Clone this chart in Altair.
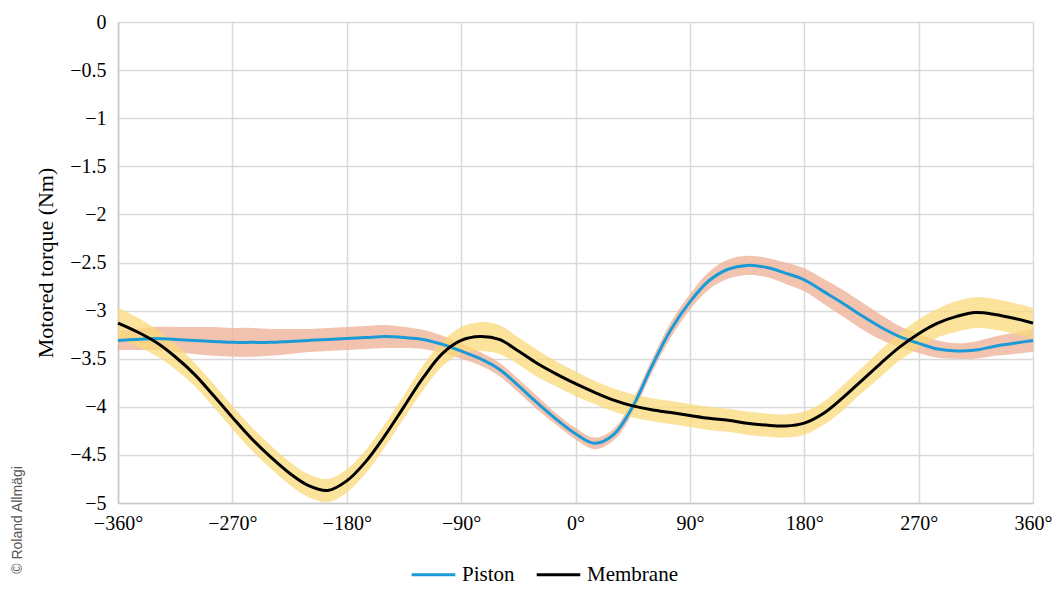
import altair as alt
import pandas as pd

angles = list(range(-360, 361, 15))

piston = [-3.31, -3.30, -3.29, -3.30, -3.31, -3.32, -3.33, -3.33, -3.33, -3.32,
          -3.31, -3.30, -3.29, -3.28, -3.27, -3.28, -3.30, -3.35, -3.42, -3.50,
          -3.61, -3.78, -3.96, -4.13, -4.28, -4.38, -4.29, -4.00, -3.58, -3.20,
          -2.91, -2.69, -2.57, -2.53, -2.55, -2.61, -2.68, -2.80, -2.92, -3.05,
          -3.17, -3.27, -3.34, -3.40, -3.42, -3.41, -3.37, -3.34, -3.31]
piston_err = [0.10, 0.11, 0.12, 0.13, 0.14, 0.15, 0.15, 0.15, 0.14, 0.13,
              0.12, 0.12, 0.12, 0.12, 0.12, 0.11, 0.10, 0.09, 0.08, 0.07,
              0.07, 0.07, 0.07, 0.06, 0.06, 0.06, 0.06, 0.07, 0.07, 0.08,
              0.08, 0.09, 0.10, 0.10, 0.10, 0.11, 0.12, 0.13, 0.14, 0.14,
              0.13, 0.11, 0.10, 0.09, 0.08, 0.09, 0.10, 0.11, 0.12]

membrane = [-3.13, -3.22, -3.33, -3.48, -3.66, -3.88, -4.11, -4.33, -4.52, -4.69,
            -4.82, -4.87, -4.77, -4.57, -4.30, -4.00, -3.70, -3.45, -3.31, -3.27,
            -3.30, -3.42, -3.55, -3.66, -3.76, -3.85, -3.93, -3.99, -4.03, -4.06,
            -4.09, -4.12, -4.14, -4.17, -4.19, -4.20, -4.17, -4.07, -3.91, -3.73,
            -3.55, -3.38, -3.24, -3.13, -3.06, -3.02, -3.04, -3.08, -3.13]
membrane_err = [0.16, 0.15, 0.14, 0.13, 0.12, 0.12, 0.12, 0.12, 0.12, 0.12,
                0.12, 0.12, 0.12, 0.12, 0.12, 0.12, 0.13, 0.13, 0.14, 0.15,
                0.15, 0.14, 0.14, 0.13, 0.13, 0.12, 0.12, 0.12, 0.12, 0.12,
                0.12, 0.12, 0.12, 0.12, 0.12, 0.12, 0.12, 0.12, 0.13, 0.13,
                0.14, 0.14, 0.15, 0.15, 0.16, 0.16, 0.16, 0.16, 0.16]

series_names = ["Piston", "Membrane"]
x_ticks = [-360, -270, -180, -90, 0, 90, 180, 270, 360]
y_ticks = [0, -0.5, -1, -1.5, -2, -2.5, -3, -3.5, -4, -4.5, -5]

rows = []
for name, vals, errs in [("Piston", piston, piston_err), ("Membrane", membrane, membrane_err)]:
    for a, v, e in zip(angles, vals, errs):
        rows.append({"angle": a, "torque": v, "lo": v - e, "hi": v + e, "series": name})
df = pd.DataFrame(rows)

FONT = "Liberation Serif, Times New Roman, DejaVu Serif, serif"
INTERP = "catmull-rom"

x_enc = alt.X("angle:Q", scale=alt.Scale(domain=[-360, 360], nice=False),
              axis=alt.Axis(values=x_ticks, title=None, tickSize=0, labelPadding=10,
                            labelFlush=False, labelOverlap=False, labelBound=False,
                            labelExpr="replace(datum.label, '-', '–') + '°'",
                            labelFontSize=20, labelFont=FONT, labelColor="#000"))
y_scale = alt.Scale(domain=[-5, 0], nice=False)

base = alt.Chart(df)

band_p = base.transform_filter(alt.datum.series == "Piston").mark_area(
    color="#EDB096", opacity=0.75, interpolate=INTERP).encode(
    x=x_enc, y=alt.Y("lo:Q", scale=y_scale), y2="hi:Q")
band_m = base.transform_filter(alt.datum.series == "Membrane").mark_area(
    color="#FAD97A", opacity=0.75, interpolate=INTERP).encode(
    x=x_enc, y=alt.Y("lo:Q", scale=y_scale), y2="hi:Q")

lines = base.mark_line(strokeWidth=3, interpolate=INTERP).encode(
    x=x_enc,
    y=alt.Y("torque:Q", scale=y_scale,
            axis=alt.Axis(values=y_ticks, title="Motored torque (Nm)", tickSize=0,
                          format="~g",
                          labelPadding=12, labelFontSize=20, labelFont=FONT,
                          labelColor="#000", labelFlush=False, labelOverlap=False,
                          labelExpr="replace(datum.label, '-', '–')",
                          titleFont=FONT, titleFontSize=22, titleFontWeight="normal",
                          titleColor="#000", titlePadding=12)),
    color=alt.Color("series:N", scale=alt.Scale(domain=series_names, range=["#1A9BD7", "#000000"]),
                    sort=series_names,
                    legend=alt.Legend(title=None, orient="none", legendX=292, legendY=529,
                                      direction="horizontal", symbolType="stroke",
                                      symbolSize=1900, symbolStrokeWidth=3,
                                      labelFont=FONT, labelFontSize=21, labelColor="#000",
                                      columnPadding=15, labelOffset=5, labelLimit=200)),
)

credit = alt.Chart(pd.DataFrame({"t": ["© Roland Allmägi"]})).mark_text(
    angle=270, font="Liberation Sans", fontSize=14, color="#555", align="center",
    baseline="middle").encode(text="t:N", x=alt.value(-100), y=alt.value(498))

chart = alt.layer(band_p, band_m, lines, credit).properties(
    width=915, height=481,
    autosize=alt.AutoSizeParams(type="none"),
    padding={"left": 118, "top": 22, "right": 24, "bottom": 87},
    background="white",
).configure_axis(
    gridColor="#d9d9d9", gridWidth=1.5, domainColor="#c8c8c8", domainWidth=1.5
).configure_view(stroke=None)

chart.save("out.html", embed_options={"renderer": "svg", "actions": False})
